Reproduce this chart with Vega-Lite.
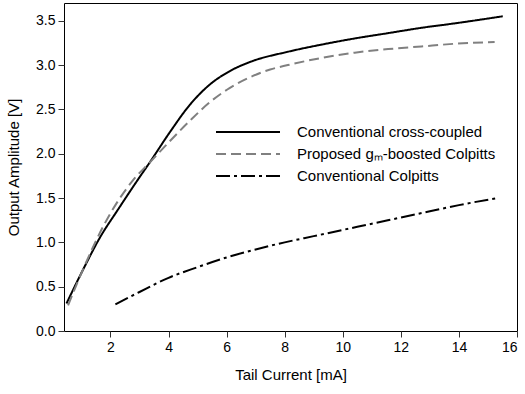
{
  "$schema": "https://vega.github.io/schema/vega-lite/v6.json",
  "width": 453,
  "height": 328,
  "autosize": "none",
  "padding": {"left": 64, "top": 3, "right": 8, "bottom": 63},
  "background": "white",
  "config": {
    "font": "Liberation Sans",
    "view": {"stroke": "black", "strokeWidth": 1},
    "axis": {"grid": false, "domain": false, "tickColor": "#333", "tickSize": 6, "labelFontSize": 14, "titleFontSize": 15, "labelColor": "black", "titleColor": "black", "titleFontWeight": "normal", "labelPadding": 3}
  },
  "data": {"values": [
    {"s": "Conventional cross-coupled", "x": 0.485, "y": 0.31},
    {"s": "Conventional cross-coupled", "x": 1.115, "y": 0.73},
    {"s": "Conventional cross-coupled", "x": 1.63, "y": 1.05},
    {"s": "Conventional cross-coupled", "x": 2.26, "y": 1.37},
    {"s": "Conventional cross-coupled", "x": 2.95, "y": 1.71},
    {"s": "Conventional cross-coupled", "x": 3.35, "y": 1.9},
    {"s": "Conventional cross-coupled", "x": 4.04, "y": 2.24},
    {"s": "Conventional cross-coupled", "x": 4.73, "y": 2.55},
    {"s": "Conventional cross-coupled", "x": 5.42, "y": 2.78},
    {"s": "Conventional cross-coupled", "x": 6.1, "y": 2.93},
    {"s": "Conventional cross-coupled", "x": 6.85, "y": 3.04},
    {"s": "Conventional cross-coupled", "x": 8.11, "y": 3.15},
    {"s": "Conventional cross-coupled", "x": 9.26, "y": 3.23},
    {"s": "Conventional cross-coupled", "x": 10.41, "y": 3.3},
    {"s": "Conventional cross-coupled", "x": 11.56, "y": 3.36},
    {"s": "Conventional cross-coupled", "x": 12.71, "y": 3.42},
    {"s": "Conventional cross-coupled", "x": 13.85, "y": 3.47},
    {"s": "Conventional cross-coupled", "x": 15.51, "y": 3.55},
    {"s": "Proposed gₘ-boosted Colpitts", "x": 0.54, "y": 0.29},
    {"s": "Proposed gₘ-boosted Colpitts", "x": 1.115, "y": 0.74},
    {"s": "Proposed gₘ-boosted Colpitts", "x": 1.75, "y": 1.18},
    {"s": "Proposed gₘ-boosted Colpitts", "x": 2.8, "y": 1.71},
    {"s": "Proposed gₘ-boosted Colpitts", "x": 3.35, "y": 1.9},
    {"s": "Proposed gₘ-boosted Colpitts", "x": 4.04, "y": 2.14},
    {"s": "Proposed gₘ-boosted Colpitts", "x": 4.73, "y": 2.37},
    {"s": "Proposed gₘ-boosted Colpitts", "x": 5.42, "y": 2.58},
    {"s": "Proposed gₘ-boosted Colpitts", "x": 6.1, "y": 2.74},
    {"s": "Proposed gₘ-boosted Colpitts", "x": 6.79, "y": 2.86},
    {"s": "Proposed gₘ-boosted Colpitts", "x": 7.5, "y": 2.95},
    {"s": "Proposed gₘ-boosted Colpitts", "x": 8.11, "y": 3.0},
    {"s": "Proposed gₘ-boosted Colpitts", "x": 9.26, "y": 3.08},
    {"s": "Proposed gₘ-boosted Colpitts", "x": 10.41, "y": 3.14},
    {"s": "Proposed gₘ-boosted Colpitts", "x": 11.56, "y": 3.18},
    {"s": "Proposed gₘ-boosted Colpitts", "x": 12.71, "y": 3.21},
    {"s": "Proposed gₘ-boosted Colpitts", "x": 13.85, "y": 3.24},
    {"s": "Proposed gₘ-boosted Colpitts", "x": 15.23, "y": 3.26},
    {"s": "Conventional Colpitts", "x": 2.17, "y": 0.3},
    {"s": "Conventional Colpitts", "x": 3.0, "y": 0.44},
    {"s": "Conventional Colpitts", "x": 4.0, "y": 0.6},
    {"s": "Conventional Colpitts", "x": 5.0, "y": 0.72},
    {"s": "Conventional Colpitts", "x": 6.0, "y": 0.83},
    {"s": "Conventional Colpitts", "x": 7.0, "y": 0.92},
    {"s": "Conventional Colpitts", "x": 8.0, "y": 1.0},
    {"s": "Conventional Colpitts", "x": 9.0, "y": 1.07},
    {"s": "Conventional Colpitts", "x": 10.0, "y": 1.14},
    {"s": "Conventional Colpitts", "x": 11.0, "y": 1.21},
    {"s": "Conventional Colpitts", "x": 12.0, "y": 1.28},
    {"s": "Conventional Colpitts", "x": 13.0, "y": 1.35},
    {"s": "Conventional Colpitts", "x": 14.0, "y": 1.42},
    {"s": "Conventional Colpitts", "x": 15.33, "y": 1.5}
  ]},
  "mark": {"type": "line", "strokeWidth": 2, "interpolate": "monotone"},
  "encoding": {
    "x": {"field": "x", "type": "quantitative", "title": "Tail Current [mA]",
      "scale": {"domain": [0.4, 16], "nice": false, "zero": false},
      "axis": {"values": [2, 4, 6, 8, 10, 12, 14, 16], "titlePadding": 13}},
    "y": {"field": "y", "type": "quantitative", "title": "Output Amplitude [V]",
      "scale": {"domain": [0, 3.7], "nice": false},
      "axis": {"values": [0, 0.5, 1, 1.5, 2, 2.5, 3, 3.5], "format": ".1f", "titlePadding": 14}},
    "color": {"field": "s", "type": "nominal", "title": null,
      "scale": {"domain": ["Conventional cross-coupled", "Proposed gₘ-boosted Colpitts", "Conventional Colpitts"], "range": ["black", "#808080", "black"]},
      "legend": {"orient": "none", "legendX": 151, "legendY": 118, "symbolType": "stroke", "symbolSize": 4096, "symbolStrokeWidth": 2, "labelFontSize": 15, "labelColor": "black", "labelOffset": 16, "padding": 0, "rowPadding": 0, "clipHeight": 22, "labelLimit": 400}},
    "strokeDash": {"field": "s", "type": "nominal", "title": null,
      "scale": {"domain": ["Conventional cross-coupled", "Proposed gₘ-boosted Colpitts", "Conventional Colpitts"], "range": [[1, 0], [10, 5], [14, 4, 3, 4]]}}
  }
}
